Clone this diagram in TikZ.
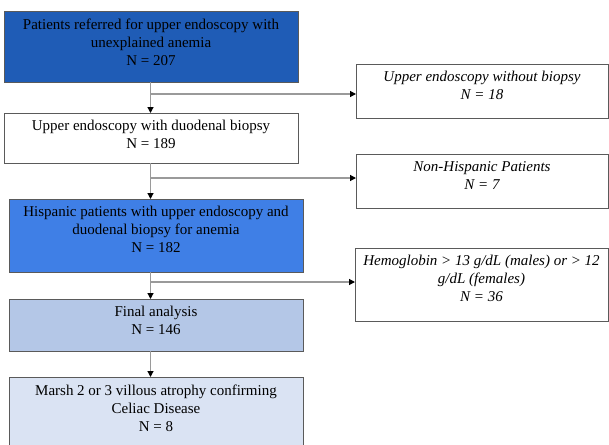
\documentclass[tikz,border=0pt]{standalone}
\usepackage{fontspec}
\setmainfont{Liberation Serif}
\usetikzlibrary{arrows.meta}
\definecolor{darkblue}{HTML}{1F5CB6}
\definecolor{midblue}{HTML}{3F7FE6}
\definecolor{lightblue}{HTML}{B4C7E7}
\definecolor{paleblue}{HTML}{DAE3F3}
\definecolor{edgegray}{HTML}{5A5A5A}
\definecolor{linegray}{HTML}{9A9A9A}
\newcommand{\bx}[3]{\begin{minipage}[t][#2pt][t]{#1pt}\centering\fontsize{15}{18}\selectfont\vspace{7.5pt}#3\end{minipage}}
\begin{document}
\begin{tikzpicture}[x=1pt,y=-1pt,
  box/.style={draw=edgegray,line width=0.8pt,inner sep=0pt,outer sep=0pt,anchor=north west},
  conn/.style={draw=linegray,line width=1.2pt,-{Triangle[length=6pt,width=6pt,color=black]}}]
\clip (0,0) rectangle (609,444);
\fill[white] (0,0) rectangle (609,444);
\node[box,fill=darkblue] (b1) at (4,11) {\bx{294}{71}{Patients referred for upper endoscopy with\\unexplained anemia\\N = 207}};
\node[box,fill=white] (b2) at (4,113) {\bx{294}{50}{Upper endoscopy with duodenal biopsy\\N = 189}};
\node[box,fill=midblue] (b3) at (9,199) {\bx{294}{73}{Hispanic patients with upper endoscopy and\\duodenal biopsy for anemia\\N = 182}};
\node[box,fill=lightblue] (b4) at (9,299) {\bx{294}{52}{Final analysis\\N = 146}};
\node[box,fill=paleblue] (b5) at (9,377) {\bx{294}{80}{Marsh 2 or 3 villous atrophy confirming\\Celiac Disease\\N = 8}};
\node[box,fill=white] (r1) at (356,64) {\bx{252}{54}{\itshape Upper endoscopy without biopsy\\N = 18}};
\node[box,fill=white] (r2) at (356,154) {\bx{252}{54}{\itshape Non-Hispanic Patients\\N = 7}};
\node[box,fill=white] (r3) at (355,248) {\bx{253}{73}{\itshape Hemoglobin > 13 g/dL (males) or > 12\\g/dL (females)\\N = 36}};
\coordinate (ax) at (150.5,0);
\coordinate (j1) at (150.5,94);
\coordinate (j2) at (150.5,178);
\coordinate (j3) at (150.5,282);
\draw[conn] (b1.south -| ax) -- (b2.north -| ax);
\draw[conn] (j1) -- (j1 -| r1.west);
\draw[conn] (b2.south -| ax) -- (b3.north -| ax);
\draw[conn] (j2) -- (j2 -| r2.west);
\draw[conn] (b3.south -| ax) -- (b4.north -| ax);
\draw[conn] (j3) -- (j3 -| r3.west);
\draw[conn] (b4.south -| ax) -- (b5.north -| ax);
\end{tikzpicture}
\end{document}
